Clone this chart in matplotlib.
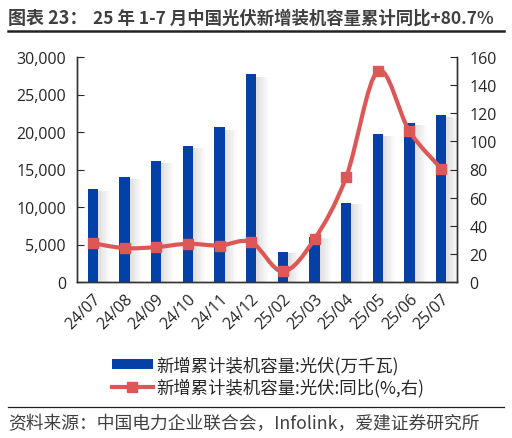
import numpy as np
import matplotlib
matplotlib.use("Agg")
import matplotlib.pyplot as plt
from matplotlib.path import Path
from matplotlib.patches import PathPatch
from matplotlib.lines import Line2D
from matplotlib.patches import Patch

plt.rcParams['font.family'] = ['Open Sans', 'Noto Sans CJK SC', 'DejaVu Sans']
cjk = ['Noto Sans CJK SC', 'DejaVu Sans']

# 数据
months = ["24/07", "24/08", "24/09", "24/10", "24/11", "24/12",
          "25/02", "25/03", "25/04", "25/05", "25/06", "25/07"]
capacity = [12353, 13999, 16088, 18130, 20630, 27757,
            3947, 5971, 10493, 19785, 21221, 22325]   # 万千瓦
yoy = [27.6, 24.1, 24.8, 27.2, 25.9, 28.3,
       7.5, 30.5, 74.6, 150.0, 107.1, 80.7]          # %

blue = "#0540A6"
red = "#DE5757"
grey_txt = "#262626"

fig = plt.figure(figsize=(5.12, 4.39), dpi=100)
ax = fig.add_axes([77/512, 1-283/439, 380/512, 225/439])
ax2 = ax.twinx()

x = np.arange(len(months))
bw = 0.32

# 柱子阴影
for k in range(9):
    ax.bar(x + bw/2 + k*0.042, np.array(capacity) * 0.985, width=0.046, align='edge',
           color="#707070", alpha=0.22 * (1 - k/9), linewidth=0, zorder=1)
ax.bar(x, capacity, width=bw, color=blue, zorder=2)

ax.set_xlim(-0.5, len(months) - 0.5)
ax.set_ylim(0, 30000)
ax.set_yticks(range(0, 30001, 5000))
ax.set_yticklabels([f"{v:,}" for v in range(0, 30001, 5000)])
ax.set_xticks(x)
ax.set_xticklabels(months, rotation=45, ha='right', rotation_mode='anchor')
ax.tick_params(axis='x', length=0, pad=6, labelsize=11.5, colors=grey_txt)
ax.tick_params(axis='y', direction='in', length=5, pad=8, labelsize=11.5, colors=grey_txt)

ax2.set_ylim(0, 160)
ax2.set_yticks(range(0, 161, 20))
ax2.tick_params(axis='y', direction='in', length=5, pad=9, labelsize=11.5, colors=grey_txt)

for a in (ax, ax2):
    a.spines['top'].set_visible(False)
    for s in ('left', 'right', 'bottom'):
        a.spines[s].set_color("#333333")
        a.spines[s].set_linewidth(1.0)

# 平滑曲线 (Catmull-Rom -> Bezier)
pts = np.column_stack([x, yoy]).astype(float)
verts = [tuple(pts[0])]
codes = [Path.MOVETO]
for i in range(len(pts) - 1):
    p0 = pts[i - 1] if i > 0 else pts[i]
    p1 = pts[i]
    p2 = pts[i + 1]
    p3 = pts[i + 2] if i + 2 < len(pts) else pts[i + 1]
    c1 = p1 + (p2 - p0) / 6
    c2 = p2 - (p3 - p1) / 6
    verts += [tuple(c1), tuple(c2), tuple(p2)]
    codes += [Path.CURVE4] * 3
ax2.add_patch(PathPatch(Path(verts, codes), facecolor='none', edgecolor=red,
                        linewidth=3, zorder=3))
ax2.plot(x, yoy, linestyle='none', marker='s', markersize=7.5, color=red, zorder=4)

# 图例
handles = [Patch(facecolor=blue, edgecolor='none'),
           Line2D([0], [0], color=red, linewidth=3, marker='s', markersize=7)]
labels = ["新增累计装机容量:光伏(万千瓦)", "新增累计装机容量:光伏:同比(%,右)"]
fig.legend(handles, labels, loc='upper left', bbox_to_anchor=(96/512, 1-341/439),
           frameon=False, handlelength=2.4, handleheight=0.55,
           labelspacing=0.2, handletextpad=0.2, labelcolor=grey_txt,
           prop={'family': cjk, 'size': 12.5})

# 标题与来源
fig.text(8/512, 1-24/439, "图表 23：", fontsize=13, fontweight='bold', color="#404040",
         family=cjk, va='baseline')
fig.text(93/512, 1-24/439, "25 年 1-7 月中国光伏新增装机容量累计同比+80.7%", fontsize=12.5,
         fontweight='bold', color="#404040", family=cjk, va='baseline')
fig.add_artist(Line2D([8/512, 504/512], [1-32/439, 1-32/439], color="#222222", linewidth=1.8))
fig.add_artist(Line2D([8/512, 504/512], [1-408/439, 1-408/439], color="#222222", linewidth=0.9))
fig.text(8/512, 1-429/439, "资料来源：中国电力企业联合会，Infolink，爱建证券研究所", fontsize=12.8,
         color="#404040", family=cjk, va='baseline')

fig.savefig("out.png", dpi=100)
